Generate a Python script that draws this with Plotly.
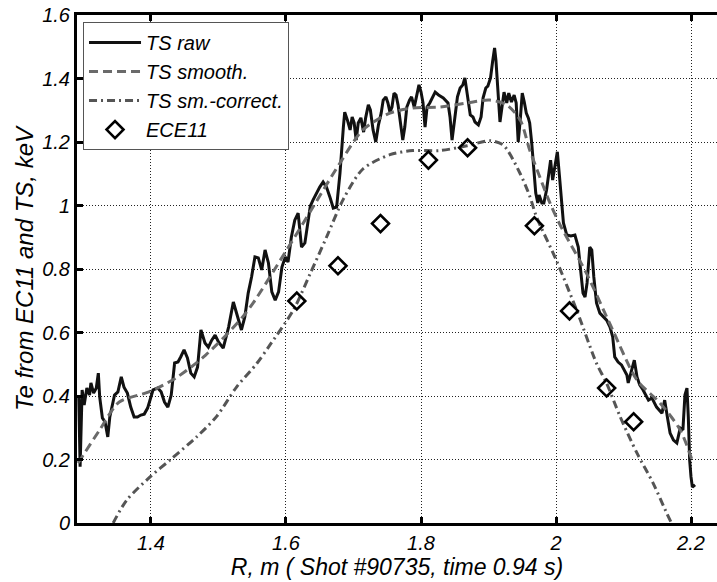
import plotly.graph_objects as go

# Thomson scattering raw profile (R in m, Te in keV)
R_raw = [1.293, 1.295, 1.298, 1.301, 1.305, 1.309, 1.311, 1.315, 1.319, 1.322,
         1.324, 1.328, 1.332, 1.336, 1.339, 1.342, 1.346, 1.351, 1.356, 1.360,
         1.365, 1.370, 1.375, 1.380, 1.385, 1.390, 1.395, 1.403, 1.410, 1.415,
         1.420, 1.425, 1.430, 1.435, 1.440, 1.444, 1.449, 1.454, 1.459, 1.464,
         1.469, 1.474, 1.480, 1.485, 1.490, 1.495, 1.500, 1.507, 1.515, 1.522,
         1.529, 1.534, 1.539, 1.544, 1.549, 1.554, 1.559, 1.564, 1.569, 1.574,
         1.579, 1.584, 1.589, 1.594, 1.599, 1.603, 1.608, 1.613, 1.618, 1.623,
         1.628, 1.636, 1.640, 1.645, 1.650, 1.655, 1.660, 1.665, 1.670, 1.675,
         1.680, 1.685, 1.687, 1.691, 1.695, 1.698, 1.701, 1.704, 1.707, 1.711,
         1.715, 1.718, 1.722, 1.725, 1.729, 1.733, 1.737, 1.741, 1.744, 1.748,
         1.751, 1.754, 1.757, 1.760, 1.763, 1.766, 1.770, 1.773, 1.776, 1.779,
         1.783, 1.786, 1.790, 1.794, 1.797, 1.800, 1.803, 1.806, 1.809, 1.813,
         1.817, 1.821, 1.826, 1.833, 1.840, 1.843, 1.846, 1.850, 1.854, 1.858,
         1.862, 1.865, 1.869, 1.873, 1.877, 1.880, 1.885, 1.889, 1.892, 1.896,
         1.899, 1.903, 1.906, 1.909, 1.911, 1.914, 1.917, 1.920, 1.923, 1.927,
         1.930, 1.934, 1.938, 1.941, 1.944, 1.947, 1.950, 1.953, 1.956, 1.959,
         1.961, 1.964, 1.967, 1.970, 1.973, 1.975, 1.979, 1.982, 1.986, 1.990,
         1.992, 1.995, 1.999, 2.002, 2.005, 2.008, 2.011, 2.016, 2.022, 2.028,
         2.033, 2.036, 2.040, 2.043, 2.046, 2.050, 2.053, 2.056, 2.060, 2.065,
         2.070, 2.075, 2.080, 2.084, 2.087, 2.092, 2.097, 2.101, 2.105, 2.107,
         2.111, 2.116, 2.120, 2.124, 2.129, 2.137, 2.142, 2.149, 2.157, 2.161,
         2.165, 2.169, 2.174, 2.179, 2.184, 2.188, 2.191, 2.194, 2.196, 2.198,
         2.200, 2.202, 2.206]
Te_raw = [0.398, 0.177, 0.419, 0.372, 0.425, 0.403, 0.441, 0.409, 0.425, 0.472,
          0.397, 0.331, 0.318, 0.271, 0.334, 0.362, 0.403, 0.413, 0.460, 0.428,
          0.409, 0.365, 0.334, 0.334, 0.340, 0.343, 0.362, 0.419, 0.425, 0.413,
          0.381, 0.365, 0.403, 0.504, 0.507, 0.523, 0.545, 0.520, 0.472, 0.460,
          0.491, 0.608, 0.567, 0.554, 0.576, 0.592, 0.570, 0.551, 0.617, 0.696,
          0.646, 0.608, 0.649, 0.724, 0.775, 0.838, 0.835, 0.797, 0.860, 0.819,
          0.728, 0.702, 0.728, 0.806, 0.838, 0.822, 0.901, 0.954, 0.976, 0.869,
          0.882, 0.998, 1.017, 1.039, 1.058, 1.074, 1.058, 1.027, 0.992, 0.995,
          1.102, 1.247, 1.294, 1.269, 1.238, 1.279, 1.260, 1.206, 1.260, 1.276,
          1.231, 1.276, 1.317, 1.301, 1.238, 1.200, 1.254, 1.291, 1.332, 1.342,
          1.323, 1.294, 1.310, 1.354, 1.348, 1.317, 1.247, 1.206, 1.247, 1.310,
          1.332, 1.342, 1.310, 1.354, 1.380, 1.358, 1.323, 1.247, 1.310, 1.323,
          1.342, 1.357, 1.348, 1.339, 1.323, 1.279, 1.206, 1.269, 1.342, 1.370,
          1.380, 1.402, 1.342, 1.285, 1.279, 1.263, 1.254, 1.279, 1.339, 1.370,
          1.376, 1.402, 1.452, 1.496, 1.458, 1.370, 1.263, 1.310, 1.357, 1.323,
          1.354, 1.326, 1.348, 1.323, 1.200, 1.269, 1.354, 1.326, 1.291, 1.276,
          1.260, 1.197, 1.112, 1.039, 1.008, 1.033, 1.008, 1.008, 1.049, 1.112,
          1.143, 1.080, 1.137, 1.169, 1.096, 1.017, 0.945, 0.907, 0.904, 0.907,
          0.869, 0.806, 0.724, 0.712, 0.756, 0.869, 0.860, 0.775, 0.693, 0.661,
          0.649, 0.639, 0.617, 0.586, 0.523, 0.507, 0.498, 0.482, 0.466, 0.441,
          0.476, 0.513, 0.460, 0.435, 0.419, 0.387, 0.394, 0.365, 0.346, 0.387,
          0.334, 0.283, 0.261, 0.252, 0.299, 0.293, 0.403, 0.425, 0.334, 0.198,
          0.145, 0.113, 0.120]

# Smoothed TS profile
R_smooth = [1.292, 1.324, 1.353, 1.397, 1.437, 1.481, 1.540, 1.601, 1.640, 1.680,
            1.714, 1.754, 1.788, 1.828, 1.868, 1.902, 1.927, 1.947, 1.961, 1.976,
            1.991, 2.006, 2.045, 2.084, 2.120, 2.154, 2.184, 2.203]
Te_smooth = [0.189, 0.293, 0.381, 0.413, 0.457, 0.529, 0.660, 0.860, 0.995, 1.134,
             1.238, 1.291, 1.307, 1.310, 1.323, 1.332, 1.317, 1.269, 1.175, 1.090,
             1.008, 0.939, 0.787, 0.608, 0.450, 0.378, 0.293, 0.189]

# Smoothed and corrected TS profile
R_corr = [1.344, 1.364, 1.399, 1.428, 1.468, 1.497, 1.527, 1.557, 1.576, 1.611,
          1.636, 1.660, 1.685, 1.714, 1.754, 1.788, 1.828, 1.868, 1.902, 1.922,
          1.947, 1.961, 1.971, 2.001, 2.031, 2.060, 2.075, 2.095, 2.120, 2.144,
          2.164, 2.171]
Te_corr = [0.000, 0.072, 0.146, 0.198, 0.272, 0.335, 0.429, 0.503, 0.560, 0.671,
           0.786, 0.900, 1.020, 1.115, 1.160, 1.173, 1.173, 1.188, 1.204, 1.190,
           1.100, 1.030, 0.965, 0.825, 0.668, 0.503, 0.440, 0.335, 0.220, 0.125,
           0.031, 0.000]

# ECE channel 11 measurements
R_ece = [1.616, 1.677, 1.740, 1.811, 1.869, 1.968, 2.020, 2.075, 2.115]
Te_ece = [0.699, 0.810, 0.943, 1.143, 1.182, 0.936, 0.668, 0.425, 0.319]

x_ticks = [1.4, 1.6, 1.8, 2.0, 2.2]
x_ticktext = ["1.4", "1.6", "1.8", "2", "2.2"]
y_ticks = [0, 0.2, 0.4, 0.6, 0.8, 1.0, 1.2, 1.4, 1.6]
y_ticktext = ["0", "0.2", "0.4", "0.6", "0.8", "1", "1.2", "1.4", "1.6"]

FONT = "Liberation Sans, Arial, Helvetica, sans-serif"

fig = go.Figure()
fig.add_trace(go.Scatter(x=R_raw, y=Te_raw, mode="lines", name="TS raw",
                         line=dict(color="#111111", width=3)))
fig.add_trace(go.Scatter(x=R_smooth, y=Te_smooth, mode="lines", name="TS smooth.",
                         line=dict(color="#6a6a6a", width=3, dash="9px,5px",
                                   shape="spline", smoothing=0.8)))
fig.add_trace(go.Scatter(x=R_corr, y=Te_corr, mode="lines", name="TS sm.-correct.",
                         line=dict(color="#555555", width=3, dash="8px,4px,2px,4px",
                                   shape="spline", smoothing=0.8)))
fig.add_trace(go.Scatter(x=R_ece, y=Te_ece, mode="markers", name="ECE11",
                         marker=dict(symbol="diamond-open", size=13, color="black",
                                     line=dict(width=2.6, color="black"))))

axis_common = dict(
    ticks="inside", ticklen=6, tickwidth=2.5, tickcolor="black",
    showline=True, linewidth=3, linecolor="black",
    showgrid=True, gridcolor="#222222", gridwidth=1, griddash="1px,2px",
    zeroline=False,
    tickfont=dict(family=FONT, size=20, color="black", style="italic"),
)

fig.update_layout(
    width=717, height=582,
    margin=dict(l=77, r=0, t=15, b=59),
    paper_bgcolor="white", plot_bgcolor="white",
    font=dict(family=FONT, color="black"),
    xaxis=dict(range=[1.2904, 2.2385], tickvals=x_ticks, ticktext=x_ticktext,
               mirror="ticks",
               title=dict(text="R, m ( Shot #90735, time 0.94 s)", standoff=5,
                          font=dict(family=FONT, size=23, color="black", style="italic")),
               **axis_common),
    yaxis=dict(range=[0, 1.6], tickvals=y_ticks, ticktext=y_ticktext,
               mirror=False,
               title=dict(text="Te from EC11 and TS, keV", standoff=2,
                          font=dict(family=FONT, size=24, color="black", style="italic")),
               **axis_common),
    legend=dict(x=0.0094, y=0.986, xanchor="left", yanchor="top",
                bgcolor="white", bordercolor="#555555", borderwidth=1,
                font=dict(family=FONT, size=20, color="black", style="italic"),
                itemwidth=52, entrywidth=232, entrywidthmode="pixels"),
    showlegend=True,
)

fig.write_html("out.html")
